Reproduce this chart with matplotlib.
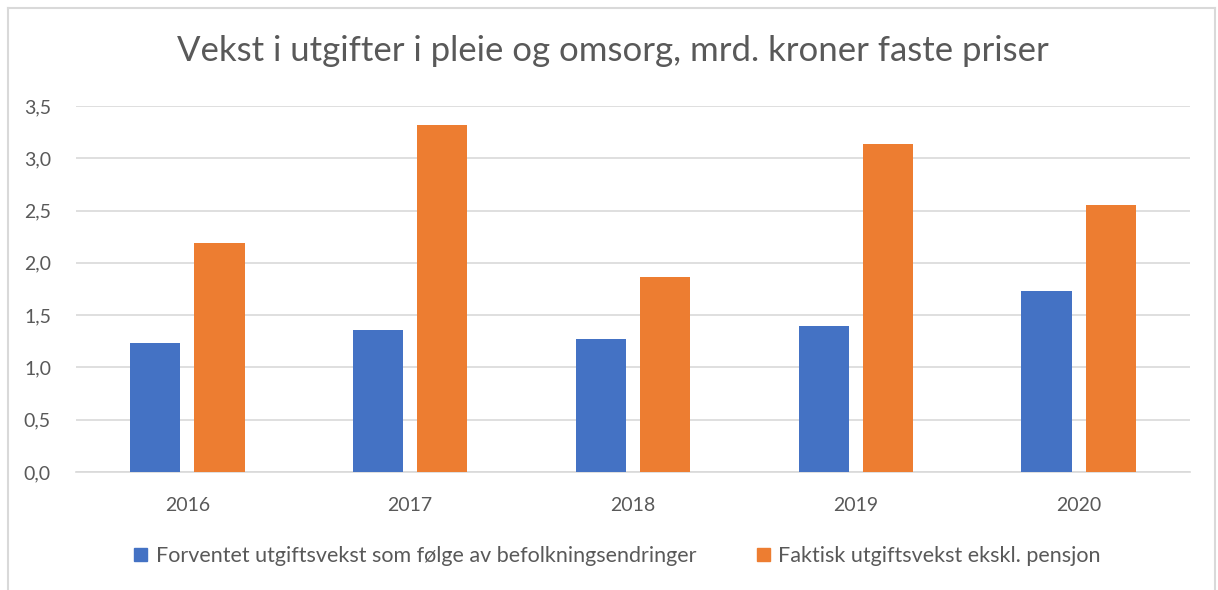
import numpy as np
import matplotlib
matplotlib.use("Agg")
from matplotlib import pyplot as plt
from matplotlib.lines import Line2D
from matplotlib.patches import Patch
from matplotlib.ticker import FuncFormatter

years = ["2016", "2017", "2018", "2019", "2020"]
expected = [1.23, 1.36, 1.27, 1.40, 1.73]
actual = [2.19, 3.32, 1.86, 3.14, 2.55]

labels = [
    "Forventet utgiftsvekst som følge av befolkningsendringer",
    "Faktisk utgiftsvekst ekskl. pensjon",
]
title = "Vekst i utgifter i pleie og omsorg, mrd. kroner faste priser"

BLUE = "#4472C4"
ORANGE = "#ED7D31"
TEXT = "#595959"
GRID = "#D9D9D9"

plt.rcParams["font.family"] = ["Lato", "DejaVu Sans"]

fig = plt.figure(figsize=(12.18, 5.9), dpi=100)
ax = fig.add_axes([76 / 1218, 1 - 472 / 590, (1190 - 76) / 1218, (472 - 106) / 590])

x = np.arange(len(years))
width = 0.225
offset = 0.144
ax.bar(x - offset, expected, width, color=BLUE, zorder=3)
ax.bar(x + offset, actual, width, color=ORANGE, zorder=3)

ax.set_xlim(-0.5, len(years) - 0.5)
ax.set_ylim(0, 3.5)
ax.set_yticks(np.arange(0, 3.51, 0.5))
ax.yaxis.set_major_formatter(FuncFormatter(lambda v, p: f"{v:.1f}".replace(".", ",")))
ax.set_xticks(x)
ax.set_xticklabels(years)

ax.grid(True, axis="y", color=GRID, linewidth=1.2, zorder=0)
for side in ["top", "right", "left"]:
    ax.spines[side].set_visible(False)
ax.spines["bottom"].set_color(GRID)
ax.spines["bottom"].set_linewidth(1.2)
ax.tick_params(axis="both", length=0, labelsize=14, labelcolor=TEXT)
ax.tick_params(axis="x", pad=18)
ax.tick_params(axis="y", pad=18)

fig.text(0.503, 1 - 51 / 590, title, ha="center", va="center",
         fontsize=25, color=TEXT)

handles = [Patch(color=BLUE), Patch(color=ORANGE)]
fig.legend(handles, labels, loc="center", bbox_to_anchor=(0.507, 1 - 556 / 590),
           ncol=2, frameon=False, fontsize=15.5, labelcolor=TEXT,
           handlelength=0.6, handleheight=0.6, handletextpad=0.4,
           columnspacing=2.8)

# chart border
border = dict(color="#D9D9D9", linewidth=1.5, transform=fig.transFigure)
fig.add_artist(Line2D([8 / 1218, 8 / 1218], [0, 1 - 8 / 590], **border))
fig.add_artist(Line2D([8 / 1218, 1215 / 1218], [1 - 8 / 590, 1 - 8 / 590], **border))
fig.add_artist(Line2D([1215 / 1218, 1215 / 1218], [0, 1 - 8 / 590], **border))

fig.savefig("out.png", dpi=100)
